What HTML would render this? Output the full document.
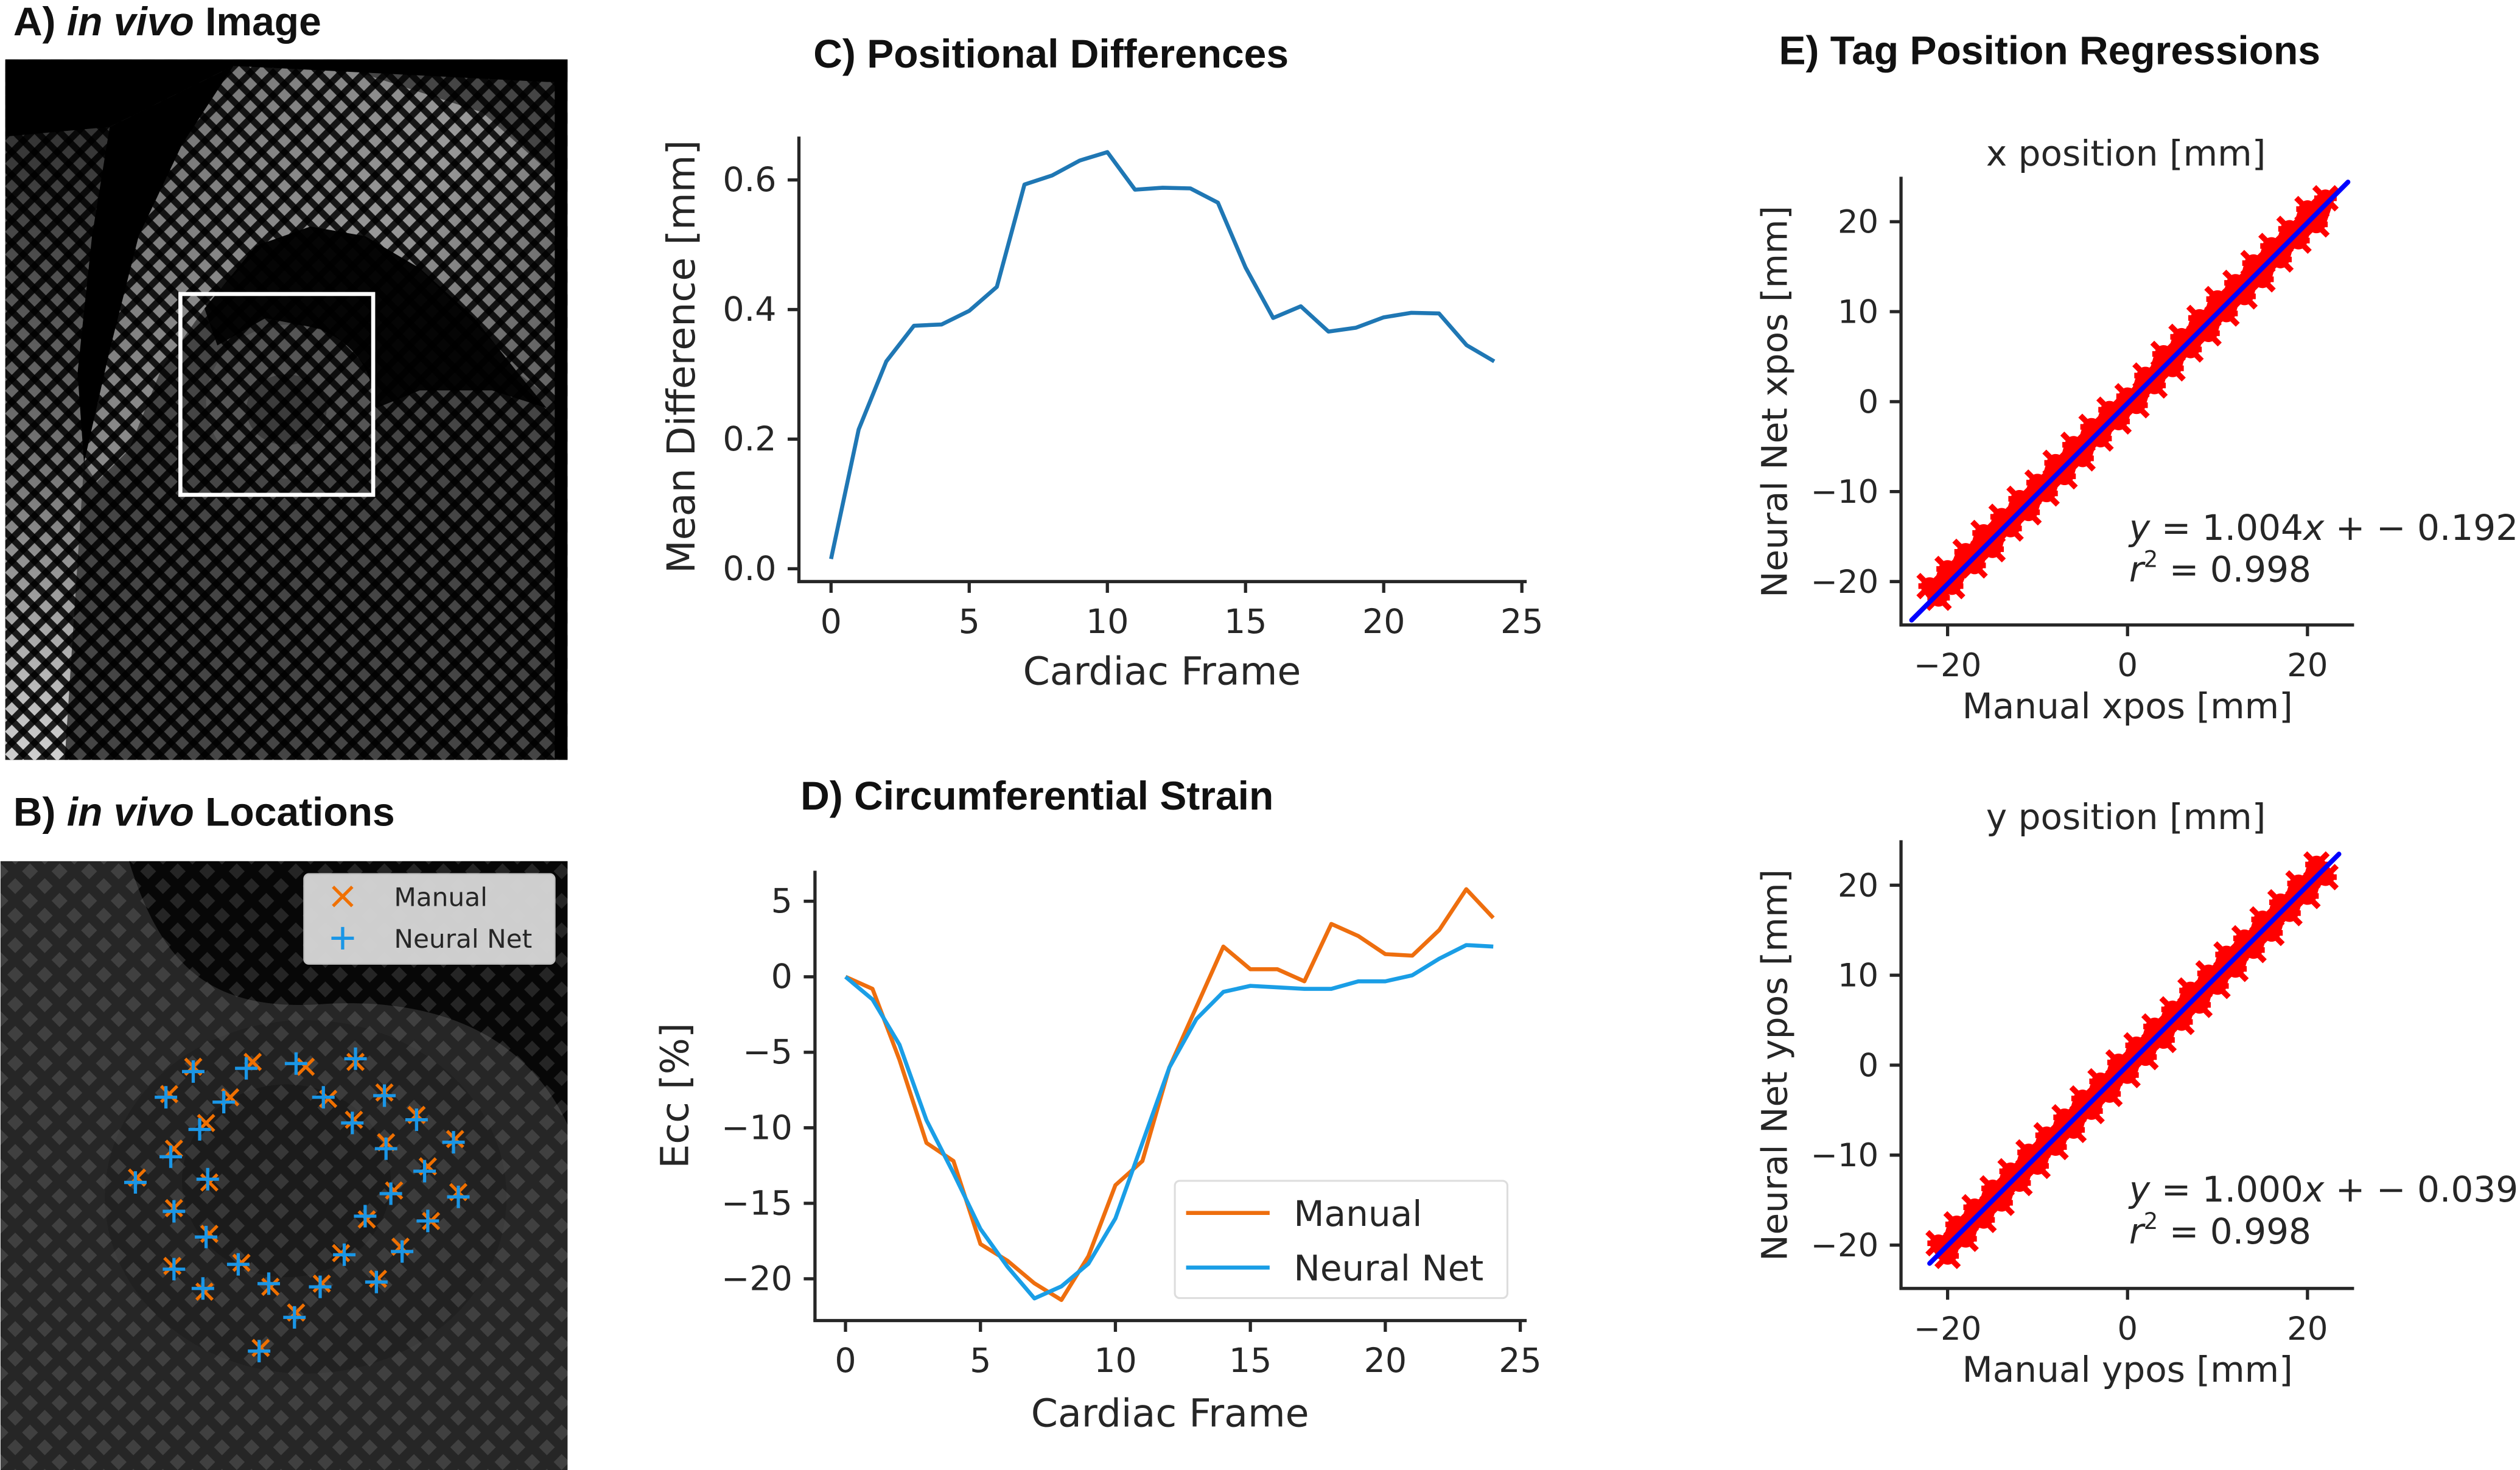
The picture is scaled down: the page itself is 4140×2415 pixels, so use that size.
<!DOCTYPE html>
<html><head><meta charset="utf-8"><style>
html,body{margin:0;padding:0;background:#fff;}
svg{display:block;}
text{font-family:"DejaVu Sans","Liberation Sans",sans-serif;fill:#262626;}
.ttl{font-family:"Liberation Sans",sans-serif;font-weight:bold;font-size:25px;fill:#111;}
</style></head><body>
<svg id="fig" width="4140" height="2415" viewBox="0 0 1568 915" xmlns="http://www.w3.org/2000/svg">
<defs>
 <pattern id="gridA" width="10" height="10" patternUnits="userSpaceOnUse" patternTransform="rotate(45)">
  <rect x="0" y="0" width="10" height="4" fill="#000" opacity="0.85"/>
  <rect x="0" y="0" width="4" height="10" fill="#000" opacity="0.85"/>
 </pattern>
 <pattern id="gridB" width="13" height="13" patternUnits="userSpaceOnUse" patternTransform="rotate(45)">
  <rect x="0" y="0" width="13" height="13" fill="#000" opacity="0.35"/>
  <rect x="3" y="3" width="7" height="7" fill="#fff" opacity="0.12"/>
 </pattern>
 <linearGradient id="leftBand" x1="0" y1="0" x2="0" y2="1"><stop offset="0" stop-color="#333"/><stop offset="0.55" stop-color="#777"/><stop offset="1" stop-color="#d0d0d0"/></linearGradient>
 <linearGradient id="arcG" x1="0" y1="0" x2="1" y2="0.6"><stop offset="0" stop-color="#666"/><stop offset="0.65" stop-color="#999"/><stop offset="1" stop-color="#666"/></linearGradient>
 <clipPath id="clipA"><rect x="3" y="37" width="350" height="436"/></clipPath>
 <clipPath id="clipB"><rect x="0" y="536" width="353" height="379"/></clipPath>
</defs>

<!-- Panel A -->
<text class="ttl" x="8" y="22">A) <tspan font-style="italic">in vivo</tspan> Image</text>
<g clip-path="url(#clipA)">
 <rect x="3" y="37" width="350" height="436" fill="#000"/>
 <rect x="3" y="37" width="342" height="436" fill="#454545"/>
 <path d="M68 79 L145 41 L220 44 L300 70 L345 110 L345 250 L322 232 L295 198 L261 167 L227 147 L193 141 L159 153 L127 192 L100 230 L80 280 L60 300 L52 288 L68 218 L86 147 L113 90 Z" fill="url(#arcG)"/>
 <path d="M3 85 L68 79 L57 147 L48 232 L52 288 L40 473 L3 473 Z" fill="url(#leftBand)"/>
 <path d="M3 34 L145 34 L145 41 L68 79 L3 85 Z" fill="#000"/>
 <path d="M145 34 L353 34 L353 51 L340 51 L145 41 Z" fill="#000"/>
 <path d="M68 79 L145 41 L113 90 L86 147 L68 218 L52 288 L48 232 L57 147 Z" fill="#000"/>
 <path d="M127 192 L159 153 L193 141 L227 147 L261 167 L295 198 L322 232 L340 254 L306 243 L261 243 L234 254 L220 230 L200 205 L165 198 L135 215 Z" fill="#050505"/>
 <ellipse cx="180" cy="250" rx="52" ry="48" fill="#555"/>
 <ellipse cx="178" cy="255" rx="25" ry="22" fill="#3c3c3c"/>
 <rect x="3" y="37" width="350" height="436" fill="url(#gridA)"/>
</g>
<rect x="112" y="183" width="120" height="125" fill="none" stroke="#fff" stroke-width="2.5"/>

<!-- Panel B -->
<text class="ttl" x="8" y="514">B) <tspan font-style="italic">in vivo</tspan> Locations</text>
<g clip-path="url(#clipB)">
 <rect x="0" y="536" width="353" height="379" fill="#3a3a3a"/>
 <path d="M80 536 L353 536 L353 700 C 330 650, 280 620, 200 625 C 130 630, 100 600, 80 536Z" fill="#0a0a0a"/>
 <ellipse cx="190" cy="745" rx="125" ry="110" fill="#333"/>
 <ellipse cx="178" cy="735" rx="65" ry="60" fill="#2a2a2a"/>
 <rect x="0" y="536" width="353" height="379" fill="url(#gridB)"/>
</g>
<g id="locMarks"></g>
<g>
 <rect x="189" y="544" width="156" height="56" rx="3" fill="#d9d9d9" opacity="0.95" stroke="#ccc"/>
 <path d="M207 552 l12 12 M219 552 l-12 12" stroke="#f07000" stroke-width="2"/>
 <text x="245" y="564" font-size="16">Manual</text>
 <path d="M213 577 v14 M206 584 h14" stroke="#1a96e6" stroke-width="2"/>
 <text x="245" y="590" font-size="16">Neural Net</text>
</g>

<g id="chartC"></g>
<g id="chartD"></g>
<g id="chartE1"></g>
<g id="chartE2"></g>
<text class="ttl" x="506" y="42">C) Positional Differences</text>
<text class="ttl" x="498" y="504">D) Circumferential Strain</text>
<text class="ttl" x="1107" y="40">E) Tag Position Regressions</text>
</svg>
<script>
// ---- data ----
const framesC = [0,1,2,3,4,5,6,7,8,9,10,11,12,13,14,15,16,17,18,19,20,21,22,23,24];
const meanDiff = [0.015,0.215,0.32,0.375,0.377,0.398,0.435,0.593,0.607,0.63,0.643,0.585,0.588,0.587,0.565,0.465,0.387,0.405,0.366,0.372,0.388,0.395,0.394,0.345,0.32];
const ticksC_x = [0,5,10,15,20,25];
const ticksC_y = [0.0,0.2,0.4,0.6];
const tickLabelsC_y = ["0.0","0.2","0.4","0.6"];
const framesD = [0,1,2,3,4,5,6,7,8,9,10,11,12,13,14,15,16,17,18,19,20,21,22,23,24];
const eccManual = [0,-0.8,-5.5,-11,-12.2,-17.7,-18.8,-20.3,-21.4,-18.5,-13.8,-12.2,-6,-2,2,0.5,0.5,-0.3,3.5,2.7,1.5,1.4,3.1,5.8,3.9];
const eccNet = [0,-1.5,-4.5,-9.5,-13,-16.7,-19.2,-21.3,-20.5,-19,-16,-11,-6,-2.8,-1,-0.6,-0.7,-0.8,-0.8,-0.3,-0.3,0.1,1.2,2.1,2.0];
const ticksD_x = [0,5,10,15,20,25];
const ticksD_y = [5,0,-5,-10,-15,-20];
const xposManual = [-22,-21,-20,-19.5,-18,-17,-16,-15,-14,-13,-12,-11,-10,-9,-8,-7,-6,-5,-4,-3,-2,-1,0,1,2,3,4,5,6,7,8,9,10,11,12,13,14,15,16,17,18,19,20,21,22];
const xposNet = [-20.5,-21.8,-18.6,-20.5,-16.7,-18.2,-14.6,-16.4,-12.8,-14.1,-10.8,-12.3,-9,-10.2,-6.8,-8.3,-4.8,-6.3,-2.8,-4.1,-0.9,-2.2,0.6,-0.4,2.9,1.8,5.3,3.7,7.2,5.8,9.3,7.6,11.4,9.8,13.2,11.7,15.4,13.6,17.3,15.8,19.2,17.9,21.4,19.7,22.6];
const yposManual = [-21,-20,-19,-18,-17,-16,-15,-14,-13,-12,-11,-10,-9,-8,-7,-6,-5,-4,-3,-2,-1,0,1,2,3,4,5,6,7,8,9,10,11,12,13,14,15,16,17,18,19,20,21,22];
const yposNet = [-19.8,-21.2,-17.7,-19.3,-15.8,-17.2,-13.7,-15.3,-11.8,-13.1,-9.7,-11.2,-7.8,-9.1,-5.8,-7.2,-3.7,-5.1,-1.8,-3.2,0.3,-1.1,2.2,0.9,4.3,2.8,6.2,4.8,8.3,6.7,10.2,8.8,12.3,10.7,14.1,12.8,16.2,14.7,18.1,16.9,20.2,18.8,22.3,20.9];
const fitX = [1.004,-0.192];
const fitY = [1.000,-0.039];
const ticksE = [-20,0,20];
const ticksEy = [20,10,0,-10,-20];
const locManual = [[120,664],[157,661],[190,664],[221,661],[105,681],[143,683],[204,684],[239,680],[128,699],[220,697],[259,694],[108,715],[240,711],[283,709],[85,733],[130,736],[266,726],[285,742],[108,752],[245,741],[130,768],[228,759],[268,760],[107,788],[150,786],[212,780],[249,776],[127,804],[168,801],[200,799],[235,796],[184,817],[162,839]];
const locNet = [[120,667],[153,665],[184,662],[221,659],[103,683],[139,686],[201,683],[239,682],[124,703],[219,699],[259,697],[106,720],[240,715],[282,711],[84,736],[129,734],[264,729],[285,745],[108,754],[243,743],[128,770],[227,757],[266,760],[108,790],[148,787],[214,781],[250,779],[126,802],[167,799],[199,801],[234,798],[183,820],[161,841]];

const NS = "http://www.w3.org/2000/svg";
function mk(tag, attrs, parent){const e=document.createElementNS(NS,tag);for(const k in attrs)e.setAttribute(k,attrs[k]);parent.appendChild(e);return e;}
const INK="#262626";

const lm=document.getElementById('locMarks');
locManual.forEach(p=>{
 const e=mk('path',{d:`M${p[0]-5} ${p[1]-5} l10 10 M${p[0]+5} ${p[1]-5} l-10 10`,stroke:'#f07000','stroke-width':2},lm);
 
 
});
locNet.forEach(p=>{
 const e=mk('path',{d:`M${p[0]} ${p[1]-7} v14 M${p[0]-7} ${p[1]} h14`,stroke:'#1a96e6','stroke-width':2},lm);
 
 
});

function axes(g, o){
 const s1=mk('line',{x1:o.left,y1:o.top,x2:o.left,y2:o.bottom,stroke:INK,'stroke-width':2},g);
 
 
 const s2=mk('line',{x1:o.left-1,y1:o.bottom,x2:o.right,y2:o.bottom,stroke:INK,'stroke-width':2},g);
 
 
 o.xt.forEach((v,i)=>{
  const x=o.xs(v);
  const t=mk('line',{x1:x,y1:o.bottom,x2:x,y2:o.bottom+7,stroke:INK,'stroke-width':2},g);
  
  
  const l=mk('text',{x:x,y:o.bottom+32,'text-anchor':'middle','font-size':o.fs},g);
  l.textContent=o.xtl?o.xtl[i]:String(v).replace('-','\u2212');
  
  
 });
 o.yt.forEach((v,i)=>{
  const y=o.ys(v);
  const t=mk('line',{x1:o.left-7,y1:y,x2:o.left,y2:y,stroke:INK,'stroke-width':2},g);
  
  
  const l=mk('text',{x:o.left-14,y:y+7,'text-anchor':'end','font-size':o.fs},g);
  l.textContent=o.ytl?o.ytl[i]:String(v).replace('-','\u2212');
  
  
 });
 const xl=mk('text',{x:o.xlx,y:o.xly,'text-anchor':'middle','font-size':o.tfs},g);
 xl.textContent=o.xl;
 
 
 const yl=mk('text',{x:0,y:0,'text-anchor':'middle','font-size':o.tfs,transform:`translate(${o.ylx},${o.yly}) rotate(-90)`},g);
 yl.textContent=o.yl;
 
 
}
function line(g,xs,ys,xd,yd,color,w,name){
 const d=xd.map((v,i)=>(i?'L':'M')+xs(v).toFixed(2)+' '+ys(yd[i]).toFixed(2)).join(' ');
 const p=mk('path',{d:d,fill:'none',stroke:color,'stroke-width':w,'stroke-linejoin':'round'},g);
 
 
 return p;
}

{
 const g=document.getElementById('chartC');
 const xs=v=>517+v*17.2, ys=v=>354-v*403.3;
 axes(g,{left:497,right:950,top:85,bottom:362,xs,ys,xt:ticksC_x,yt:ticksC_y,ytl:tickLabelsC_y,fs:21,tfs:24,xl:'Cardiac Frame',xlx:723,xly:426,yl:'Mean Difference [mm]',ylx:432,yly:222});
 line(g,xs,ys,framesC,meanDiff,'#1f77b4',2.5,'mean-difference-line');
}
{
 const g=document.getElementById('chartD');
 const xs=v=>526+v*16.8, ys=v=>608-v*9.4;
 axes(g,{left:507,right:950,top:542,bottom:822,xs,ys,xt:ticksD_x,yt:ticksD_y,fs:21,tfs:24,xl:'Cardiac Frame',xlx:728,xly:888,yl:'Ecc [%]',ylx:428,yly:682});
 line(g,xs,ys,framesD,eccManual,'#ee6e0e',2.5,'manual-line');
 line(g,xs,ys,framesD,eccNet,'#1a9ee6',2.5,'neural-net-line');
 const lg=mk('g',{},g);
 
 
 mk('rect',{x:731,y:735,width:207,height:73,rx:3,fill:'#fff',stroke:'#ddd','stroke-width':1.2},lg);
 mk('line',{x1:738,y1:755,x2:790,y2:755,stroke:'#ee6e0e','stroke-width':2.5},lg);
 const t1=mk('text',{x:805,y:763,'font-size':22},lg); t1.textContent='Manual';
 mk('line',{x1:738,y1:789,x2:790,y2:789,stroke:'#1a9ee6','stroke-width':2.5},lg);
 const t2=mk('text',{x:805,y:797,'font-size':22},lg); t2.textContent='Neural Net';
}
function regression(id,top,bottom,mx,ny,fit,title,xl,yl,eqY,lineFrom,lineTo){
 const g=document.getElementById(id);
 const xs=v=>1324+v*5.6, ys=v=>bottom-139-v*5.6;
 axes(g,{left:1183,right:1465,top:top,bottom:bottom,xs,ys,xt:ticksE,yt:ticksEy,fs:20,tfs:22,xl:xl,xlx:1324,xly:bottom+58,yl:yl,ylx:1112,yly:bottom-139});
 const tt=mk('text',{x:1323,y:top-7,'text-anchor':'middle','font-size':22},g);
 tt.textContent=title;
 
 
 const band=line(g,xs,ys,mx,ny,'#ff0000',11,'scatter-band');
 band.setAttribute('stroke-linecap','round');
 mx.forEach((v,i)=>{
  const x=xs(v), y=ys(ny[i]);
  const m=mk('path',{d:`M${x-7} ${y-7} l14 14 M${x+7} ${y-7} l-14 14 M${x-7} ${y} h14`,stroke:'#ff0000','stroke-width':3.5},g);
  
  
 });
 const fl=mk('line',{x1:xs(lineFrom),y1:ys(fit[0]*lineFrom+fit[1]),x2:xs(lineTo),y2:ys(fit[0]*lineTo+fit[1]),stroke:'#0000ff','stroke-width':3,'stroke-linecap':'round'},g);
 
 
 const eq=mk('text',{x:1325,y:eqY,'font-size':22},g);
 eq.innerHTML='<tspan font-style="italic">y</tspan> = '+fit[0].toFixed(3)+'<tspan font-style="italic">x</tspan> + \u2212 '+Math.abs(fit[1]).toFixed(3);
 
 
 const r2=mk('text',{x:1325,y:eqY+26,'font-size':22},g);
 r2.innerHTML='<tspan font-style="italic">r</tspan><tspan font-size="14" dy="-9">2</tspan><tspan dy="9"> = 0.998</tspan>';
 
 
}
regression('chartE1',110,389,xposManual,xposNet,fitX,'x position [mm]','Manual xpos [mm]','Neural Net xpos [mm]',336,-24,24.5);
regression('chartE2',523,802,yposManual,yposNet,fitY,'y position [mm]','Manual ypos [mm]','Neural Net ypos [mm]',748,-22,23.5);
</script>
</body></html>
